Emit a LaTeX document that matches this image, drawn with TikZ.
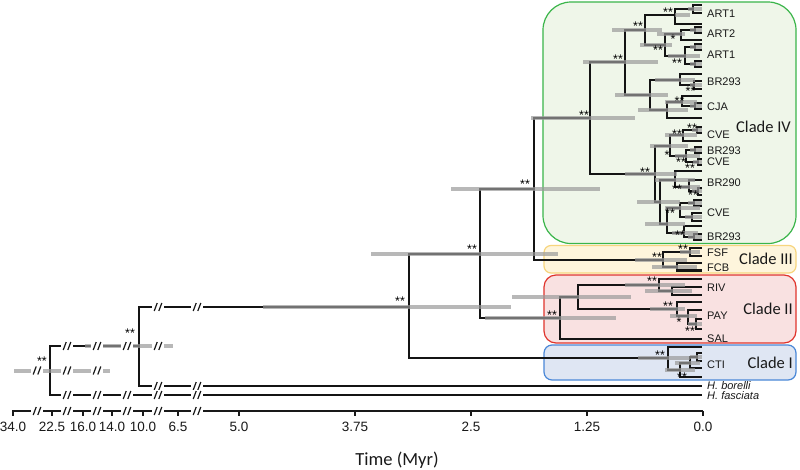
\documentclass[tikz,border=0pt]{standalone}
\usepackage{fontspec}
\setmainfont{Liberation Sans}
\newfontfamily\calfont{Carlito}
\definecolor{gfill}{HTML}{EFF6E9}
\definecolor{gline}{HTML}{3AB54A}
\definecolor{yfill}{HTML}{FEF5DC}
\definecolor{yline}{HTML}{F7D57E}
\definecolor{rfill}{HTML}{F9E1E1}
\definecolor{rline}{HTML}{E0342C}
\definecolor{bfill}{HTML}{DFE6F3}
\definecolor{bline}{HTML}{4A88D8}
\definecolor{barc}{HTML}{9A9A9A}
\tikzset{
 br/.style={line width=2.1pt, draw=black!92, line join=miter},
 hpd/.style={line width=4pt, draw=barc, draw opacity=0.7},
 tiplab/.style={anchor=west, inner sep=0pt, font=\fontsize{11}{12}\selectfont, text=black!90},
 tipit/.style={tiplab, font=\itshape\fontsize{11}{12}\selectfont},
 sig/.style={anchor=base, inner sep=0pt, font=\fontsize{12.5}{13}\selectfont, yshift=-6.8pt},
 axlab/.style={inner sep=0pt, font=\fontsize{13.5}{14}\selectfont, text=black!90},
 cladelab/.style={anchor=east, inner sep=0pt, font=\calfont\fontsize{16.5}{18}\selectfont, text=black!90},
 brkline/.style={line width=1.2pt, draw=black!90},
 cladebox/.style={line width=1.2pt},
 axisline/.style={line width=1.5pt, draw=black!90, line join=miter},
}
\newcommand\brn[2]{\draw[br] (#1) |- (#2);}
\newcommand\hpdbar[3]{\draw[hpd] (#2,0 |- #1) -- (#3,0 |- #1);}
\newcommand\brkat[2]{\fill[white] (#1-6,#2-4.6) rectangle (#1+6,#2+4.6);
  \draw[brkline] (#1-3.8,#2+4) -- (#1-0.8,#2-4) (#1+0.8,#2+4) -- (#1+3.8,#2-4);}
\begin{document}
\begin{tikzpicture}[x=1pt,y=-1pt]
\useasboundingbox (0,0) rectangle (800,469);
\fill[white] (0,0) rectangle (800,469);
% clade boxes
\draw[cladebox, draw=gline, fill=gfill, rounded corners=28pt] (543,2) rectangle (796,243.5);
\draw[cladebox, draw=yline, fill=yfill, rounded corners=7pt] (544,245.5) rectangle (796,273);
\draw[cladebox, draw=rline, fill=rfill, rounded corners=12pt] (544,275) rectangle (796,343);
\draw[cladebox, draw=bline, fill=bfill, rounded corners=8pt] (544,345) rectangle (796,380);
% backbone coordinates
\coordinate (root) at (50,370.5);
\coordinate (n1) at (139,346);
\coordinate (hf) at (702,395);
\coordinate (hb) at (702,386);
\coordinate (n2) at (409,307);
\coordinate (n3) at (480,254);
\coordinate (n4) at (534,189);
\coordinate (R4) at (590,118);
\coordinate (S) at (663,260);
\coordinate (c2) at (560,318);
\coordinate (X) at (668,358);
% clade IV
\coordinate (A) at (625,62);
\coordinate (A1) at (645,30);
\coordinate (B) at (675,15);
\coordinate (B1) at (693,9);
\coordinate (tB1a) at (702,5);
\coordinate (tB1b) at (702,13);
\coordinate (tBb) at (702,24);
\coordinate (C) at (665,45);
\coordinate (D) at (681,34);
\coordinate (D1) at (695,30);
\coordinate (tD1a) at (702,27);
\coordinate (tD1b) at (702,33);
\coordinate (tDb) at (702,40);
\coordinate (E) at (685,56);
\coordinate (E1) at (695,47);
\coordinate (tE1a) at (702,44);
\coordinate (tE1b) at (702,50);
\coordinate (E2) at (695,64);
\coordinate (tE2a) at (702,61);
\coordinate (tE2b) at (702,67);
\coordinate (F) at (650,95);
\coordinate (G) at (680,80);
\coordinate (tGa) at (702,74);
\coordinate (G1) at (694,85);
\coordinate (tG1a) at (702,81);
\coordinate (tG1b) at (702,89);
\coordinate (H) at (667,110);
\coordinate (I) at (682,102);
\coordinate (tIa) at (702,96);
\coordinate (I1) at (695,106);
\coordinate (tI1a) at (702,103);
\coordinate (tI1b) at (702,109);
\coordinate (tHb) at (702,118);
\coordinate (J) at (655,174);
\coordinate (K) at (670,146);
\coordinate (L) at (683,135);
\coordinate (L1) at (697,130);
\coordinate (tL1a) at (702,127);
\coordinate (tL1b) at (702,133);
\coordinate (tLb) at (702,141);
\coordinate (M) at (686,156);
\coordinate (M0) at (695,150);
\coordinate (tM0a) at (702,147);
\coordinate (tM0b) at (702,153);
\coordinate (M1) at (698,162);
\coordinate (tM1a) at (702,159);
\coordinate (tM1b) at (702,165);
\coordinate (N) at (660,202);
\coordinate (O) at (675,180);
\coordinate (tOa) at (702,171);
\coordinate (O1) at (689,187);
\coordinate (tO1a) at (702,180);
\coordinate (O2) at (698,191);
\coordinate (tO2a) at (702,188);
\coordinate (tO2b) at (702,195);
\coordinate (P) at (667,224);
\coordinate (Q) at (680,208);
\coordinate (Q1) at (694,203);
\coordinate (tQ1a) at (702,200);
\coordinate (tQ1b) at (702,206);
\coordinate (Q2) at (692,217);
\coordinate (tQ2a) at (702,213);
\coordinate (tQ2b) at (702,221);
\coordinate (R) at (684,233);
\coordinate (tRa) at (702,226);
\coordinate (R1) at (694,237);
\coordinate (tR1a) at (702,234);
\coordinate (tR1b) at (702,240);
% clade III
\coordinate (T) at (690,252);
\coordinate (tTa) at (702,248);
\coordinate (tTb) at (702,256);
\coordinate (U) at (677,267);
\coordinate (tUa) at (702,263);
\coordinate (tUb) at (702,270.5);
% clade II
\coordinate (V0) at (578,297);
\coordinate (V) at (659,285);
\coordinate (tVa) at (702,279);
\coordinate (V1) at (672,291);
\coordinate (tV1a) at (702,287);
\coordinate (tV1b) at (702,295);
\coordinate (W) at (677,309);
\coordinate (tWa) at (702,302);
\coordinate (W1) at (688,316);
\coordinate (tW1a) at (702,310);
\coordinate (W2) at (696,324);
\coordinate (tW2a) at (702,319);
\coordinate (tW2b) at (702,329);
\coordinate (tSAL) at (702,339);
% clade I
\coordinate (tXa) at (702,347);
\coordinate (X1) at (680,370);
\coordinate (X2) at (690,363);
\coordinate (X3) at (697,357);
\coordinate (tX3a) at (702,353);
\coordinate (tX3b) at (702,361);
\coordinate (tX2b) at (702,368);
\coordinate (tX1b) at (702,377);
% branches
\brn{root}{n1}\brn{root}{hf}
\brn{n1}{n2}\brn{n1}{hb}
\brn{n2}{n3}\brn{n2}{X}
\brn{n3}{n4}\brn{n3}{c2}
\brn{n4}{R4}\brn{n4}{S}
\brn{R4}{A}\brn{R4}{J}
\brn{A}{A1}\brn{A}{F}
\brn{A1}{B}\brn{A1}{C}
\brn{B}{B1}\brn{B}{tBb}\brn{B1}{tB1a}\brn{B1}{tB1b}
\brn{C}{D}\brn{C}{E}
\brn{D}{D1}\brn{D}{tDb}\brn{D1}{tD1a}\brn{D1}{tD1b}
\brn{E}{E1}\brn{E}{E2}\brn{E1}{tE1a}\brn{E1}{tE1b}\brn{E2}{tE2a}\brn{E2}{tE2b}
\brn{F}{G}\brn{F}{H}
\brn{G}{tGa}\brn{G}{G1}\brn{G1}{tG1a}\brn{G1}{tG1b}
\brn{H}{I}\brn{H}{tHb}\brn{I}{tIa}\brn{I}{I1}\brn{I1}{tI1a}\brn{I1}{tI1b}
\brn{J}{K}\brn{J}{N}
\brn{K}{L}\brn{K}{M}
\brn{L}{L1}\brn{L}{tLb}\brn{L1}{tL1a}\brn{L1}{tL1b}
\brn{M}{M0}\brn{M}{M1}\brn{M0}{tM0a}\brn{M0}{tM0b}\brn{M1}{tM1a}\brn{M1}{tM1b}
\brn{N}{O}\brn{N}{P}
\brn{O}{tOa}\brn{O}{O1}\brn{O1}{tO1a}\brn{O1}{O2}\brn{O2}{tO2a}\brn{O2}{tO2b}
\brn{P}{Q}\brn{P}{R}
\brn{Q}{Q1}\brn{Q}{Q2}\brn{Q1}{tQ1a}\brn{Q1}{tQ1b}\brn{Q2}{tQ2a}\brn{Q2}{tQ2b}
\brn{R}{tRa}\brn{R}{R1}\brn{R1}{tR1a}\brn{R1}{tR1b}
\brn{S}{T}\brn{S}{U}\brn{T}{tTa}\brn{T}{tTb}\brn{U}{tUa}\brn{U}{tUb}
\brn{c2}{V0}\brn{c2}{tSAL}
\brn{V0}{V}\brn{V0}{W}
\brn{V}{tVa}\brn{V}{V1}\brn{V1}{tV1a}\brn{V1}{tV1b}
\brn{W}{tWa}\brn{W}{W1}\brn{W1}{tW1a}\brn{W1}{W2}\brn{W2}{tW2a}\brn{W2}{tW2b}
\brn{X}{tXa}\brn{X}{X1}\brn{X1}{X2}\brn{X1}{tX1b}\brn{X2}{X3}\brn{X2}{tX2b}\brn{X3}{tX3a}\brn{X3}{tX3b}
% HPD bars
\hpdbar{root}{14}{110}
\hpdbar{n1}{85}{173}
\hpdbar{n2}{263}{511}
\hpdbar{n3}{371}{558}
\hpdbar{n4}{451}{600}
\hpdbar{R4}{531}{635}
\hpdbar{A}{583}{658}
\hpdbar{A1}{612}{662}
\hpdbar{B}{675}{690}
\hpdbar{B1}{688}{702}
\hpdbar{C}{640}{672}
\hpdbar{D}{657}{685}
\hpdbar{D1}{690}{702}
\hpdbar{E}{668}{700}
\hpdbar{E1}{690}{702}
\hpdbar{E2}{690}{702}
\hpdbar{F}{615}{668}
\hpdbar{G}{655}{695}
\hpdbar{G1}{690}{702}
\hpdbar{H}{638}{688}
\hpdbar{I}{665}{697}
\hpdbar{I1}{690}{702}
\hpdbar{J}{625}{677}
\hpdbar{K}{650}{688}
\hpdbar{L}{665}{697}
\hpdbar{L1}{692}{702}
\hpdbar{M}{675}{700}
\hpdbar{M0}{690}{702}
\hpdbar{M1}{693}{702}
\hpdbar{N}{637}{680}
\hpdbar{O}{655}{695}
\hpdbar{O1}{678}{700}
\hpdbar{O2}{692}{702}
\hpdbar{P}{645}{685}
\hpdbar{Q}{665}{700}
\hpdbar{Q1}{688}{702}
\hpdbar{Q2}{685}{702}
\hpdbar{R}{672}{698}
\hpdbar{R1}{688}{702}
\hpdbar{S}{635}{687}
\hpdbar{T}{680}{700}
\hpdbar{U}{652}{697}
\hpdbar{c2}{485}{616}
\hpdbar{V0}{512}{631}
\hpdbar{V}{625}{685}
\hpdbar{V1}{645}{692}
\hpdbar{W}{650}{685}
\hpdbar{W1}{670}{697}
\hpdbar{W2}{688}{702}
\hpdbar{X}{638}{690}
\hpdbar{X1}{665}{695}
\hpdbar{X2}{675}{700}
\hpdbar{X3}{690}{702}
% axis
\draw[axisline] (13,415.5) -- (13,411) -- (703,411);
\foreach \tx in {52,83,112,143,178,239,355,471,587,703} {\draw[axisline] (\tx,411) -- (\tx,415.5);}
% breaks
\foreach \bx in {37,67,97,127,158,197} {\brkat{\bx}{411}}
\foreach \bx in {37,67,97} {\brkat{\bx}{370.5}}
\foreach \bx in {67,97,127,158} {\brkat{\bx}{346}}
\foreach \bx in {158,197} {\brkat{\bx}{307}}
\foreach \bx in {158,197} {\brkat{\bx}{386}}
\foreach \bx in {67,97,127,158,197} {\brkat{\bx}{395}}
% axis labels
\node[axlab] (a340) at (13,427) {34.0};
\node[axlab] (a225) at (52,427) {22.5};
\node[axlab] (a160) at (83,427) {16.0};
\node[axlab] (a140) at (112,427) {14.0};
\node[axlab] (a100) at (143,427) {10.0};
\node[axlab] (a65) at (178,427) {6.5};
\node[axlab] (a50) at (239,427) {5.0};
\node[axlab] (a375) at (355,427) {3.75};
\node[axlab] (a25) at (471,427) {2.5};
\node[axlab] (a125) at (587,427) {1.25};
\node[axlab] (a00) at (703,427) {0.0};
\node[inner sep=0pt, font=\calfont\fontsize{18.5}{20}\selectfont, text=black!90] (xtitle) at (397,460) {Time (Myr)};
% tip labels
\node[tiplab] (l1) at (707,14) {ART1};
\node[tiplab] (l2) at (707,34) {ART2};
\node[tiplab] (l3) at (707,55) {ART1};
\node[tiplab] (l4) at (707,82) {BR293};
\node[tiplab] (l5) at (707,107) {CJA};
\node[tiplab] (l6) at (707,135) {CVE};
\node[tiplab] (l7) at (707,151) {BR293};
\node[tiplab] (l8) at (707,162) {CVE};
\node[tiplab] (l9) at (707,183) {BR290};
\node[tiplab] (l10) at (707,213) {CVE};
\node[tiplab] (l11) at (707,237) {BR293};
\node[tiplab] (l12) at (707,253) {FSF};
\node[tiplab] (l13) at (707,268) {FCB};
\node[tiplab] (l14) at (707,288) {RIV};
\node[tiplab] (l15) at (707,316) {PAY};
\node[tiplab] (l16) at (707,339) {SAL};
\node[tiplab] (l17) at (707,365) {CTI};
\node[tipit] (l18) at (707,386) {H. borelli};
\node[tipit] (l19) at (707,396) {H. fasciata};
% clade labels
\node[cladelab] (cl4) at (791,127) {Clade IV};
\node[cladelab] (cl3) at (793,259) {Clade III};
\node[cladelab] (cl2) at (793,309) {Clade II};
\node[cladelab] (cl1) at (793,363) {Clade I};
% support values
\node[sig] (s1) at (42,359) {**};
\node[sig] (s2) at (130,331) {**};
\node[sig] (s3) at (400,299) {**};
\node[sig] (s4) at (472,247) {**};
\node[sig] (s5) at (525,182) {**};
\node[sig] (s6) at (584,113) {**};
\node[sig] (s7) at (552,313) {**};
\node[sig] (s8) at (618,57) {**};
\node[sig] (s9) at (638,24) {**};
\node[sig] (s10) at (668,10) {**};
\node[sig] (s11) at (673,37) {*};
\node[sig] (s12) at (658,48) {**};
\node[sig] (s13) at (677,61) {**};
\node[sig] (s14) at (690.5,88.5) {**};
\node[sig] (s15) at (679.5,99) {**};
\node[sig] (s16) at (692,126) {**};
\node[sig] (s17) at (677,132) {**};
\node[sig] (s18) at (667,153) {*};
\node[sig] (s19) at (681,160) {**};
\node[sig] (s20) at (690,166) {**};
\node[sig] (s21) at (645,170) {**};
\node[sig] (s22) at (677,187) {**};
\node[sig] (s23) at (693,193) {**};
\node[sig] (s24) at (670,211) {**};
\node[sig] (s25) at (680,233) {**};
\node[sig] (s26) at (657,255) {**};
\node[sig] (s27) at (683,247) {**};
\node[sig] (s28) at (652,279) {**};
\node[sig] (s29) at (668,304) {**};
\node[sig] (s30) at (679,320) {*};
\node[sig] (s31) at (690,329) {**};
\node[sig] (s32) at (660,353) {**};
\node[sig] (s33) at (682,375) {**};
\end{tikzpicture}
\end{document}
